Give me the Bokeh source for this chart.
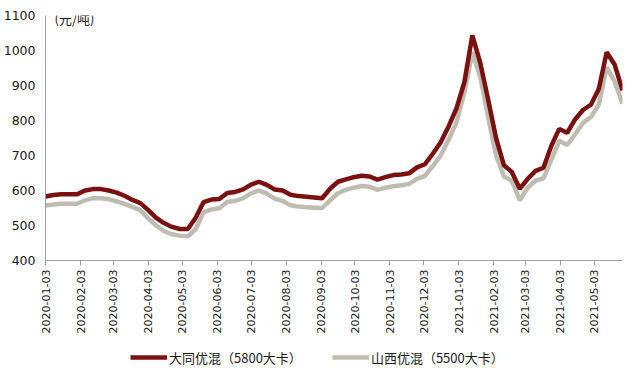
import math
import pandas as pd
from bokeh.plotting import figure
from bokeh.layouts import column
from bokeh.models import (Range1d, FixedTicker, DatetimeTickFormatter, Legend, LegendItem, Label)
from bokeh.embed import file_html
from bokeh.resources import INLINE

# ---- data ----
dates = pd.date_range("2020-01-03", periods=74, freq="7D")

datong = [583, 587, 589, 589, 589, 600, 604, 604, 600, 594,
          585, 573, 564, 544, 522, 507, 496, 490, 490, 522,
          567, 574, 576, 593, 596, 603, 617, 625, 616, 603,
          600, 588, 584, 582, 580, 578, 605, 625, 632, 638,
          642, 640, 631, 638, 644, 646, 649, 666, 675, 705,
          738, 783, 835, 910, 1043, 965, 860, 750, 672, 653,
          605, 633, 656, 665, 728, 776, 765, 803, 830, 845,
          890, 995, 960, 886]

shanxi = [557, 560, 562, 562, 562, 572, 578, 578, 575, 569,
          562, 553, 544, 520, 500, 484, 475, 471, 469, 490,
          538, 546, 549, 568, 570, 578, 592, 600, 591, 577,
          570, 558, 554, 552, 551, 550, 572, 592, 602, 608,
          613, 611, 602, 608, 612, 615, 619, 633, 642, 670,
          700, 745, 795, 880, 995, 925, 810, 700, 640, 628,
          572, 608, 628, 635, 688, 742, 730, 760, 793, 810,
          845, 952, 912, 848]

tick_dates = ["2020-01-03", "2020-02-03", "2020-03-03", "2020-04-03", "2020-05-03",
              "2020-06-03", "2020-07-03", "2020-08-03", "2020-09-03", "2020-10-03",
              "2020-11-03", "2020-12-03", "2021-01-03", "2021-02-03", "2021-03-03",
              "2021-04-03", "2021-05-03"]
y_ticks = [400, 500, 600, 700, 800, 900, 1000, 1100]

series_names = ["大同优混（5800大卡）", "山西优混（5500大卡）"]
unit_label = "(元/吨)"

RED = "#7a1010"
GRAY = "#bfbdb1"
NUM_FONT = "DejaVu Sans"
CJK_FONT = "Noto Sans CJK SC"

p = figure(width=633, height=340, output_backend="svg", toolbar_location=None,
           x_axis_type="datetime",
           x_range=Range1d(dates[0], dates[-1]),
           y_range=Range1d(400, 1100),
           min_border_left=43, min_border_right=11, min_border_top=15, min_border_bottom=80)
p.outline_line_color = None
p.xgrid.visible = False
p.ygrid.visible = False
p.background_fill_color = "white"

p.line(dates, shanxi, line_color=GRAY, line_width=4.5)
p.line(dates, datong, line_color=RED, line_width=4.5)

# axes
xa = p.xaxis[0]
xa.ticker = FixedTicker(ticks=[pd.Timestamp(d).value / 1e6 for d in tick_dates])
fmt = "%Y-%m-%d"
xa.formatter = DatetimeTickFormatter(milliseconds=fmt, seconds=fmt, minsec=fmt, minutes=fmt,
                                     hourmin=fmt, hours=fmt, days=fmt, months=fmt, years=fmt)
xa.major_label_orientation = math.pi / 2
xa.major_label_text_font = NUM_FONT
xa.major_label_text_font_size = "11px"
xa.major_label_text_color = "#1a1a1a"
xa.axis_line_color = "#a0a0a0"
xa.major_tick_line_color = "#a0a0a0"
xa.major_tick_out = 5
xa.major_tick_in = 0
xa.minor_tick_line_color = None
xa.major_label_standoff = 4

ya = p.yaxis[0]
ya.ticker = FixedTicker(ticks=y_ticks)
ya.major_label_text_font = NUM_FONT
ya.major_label_text_font_size = "12.5px"
ya.major_label_text_color = "#1a1a1a"
ya.axis_line_color = "#a0a0a0"
ya.major_tick_line_color = None
ya.major_tick_out = 0
ya.major_tick_in = 0
ya.minor_tick_line_color = None
ya.minor_tick_out = 0
ya.minor_tick_in = 0
ya.major_label_standoff = 10

p.add_layout(Label(x=pd.Timestamp("2020-01-11"), y=1091, text=unit_label,
                   text_font=CJK_FONT, text_font_size="13px", text_color="#1a1a1a",
                   text_baseline="middle"))

# ---- legend strip below the chart (series drawn outside its visible range) ----
lg = figure(width=633, height=36, output_backend="svg", toolbar_location=None,
            x_axis_location=None, y_axis_location=None,
            x_range=Range1d(0, 1), y_range=Range1d(0, 1),
            min_border_left=0, min_border_right=0, min_border_top=0, min_border_bottom=0)
lg.xgrid.visible = False
lg.ygrid.visible = False
lg.outline_line_color = None
k_red = lg.line(dates, datong, line_color=RED, line_width=4.5)
k_gray = lg.line(dates, shanxi, line_color=GRAY, line_width=4.5)

legend = Legend(items=[LegendItem(label=series_names[0], renderers=[k_red]),
                       LegendItem(label=series_names[1], renderers=[k_gray])],
                orientation="horizontal", location=(85, 9),
                label_text_font=CJK_FONT, label_text_font_size="13px",
                label_text_color="#1a1a1a",
                glyph_width=37, label_standoff=2, spacing=30, padding=0, margin=0,
                border_line_alpha=0, background_fill_alpha=0)
lg.add_layout(legend, "center")

layout = column(p, lg, spacing=0)
open("out.html", "w").write(file_html(layout, INLINE))
